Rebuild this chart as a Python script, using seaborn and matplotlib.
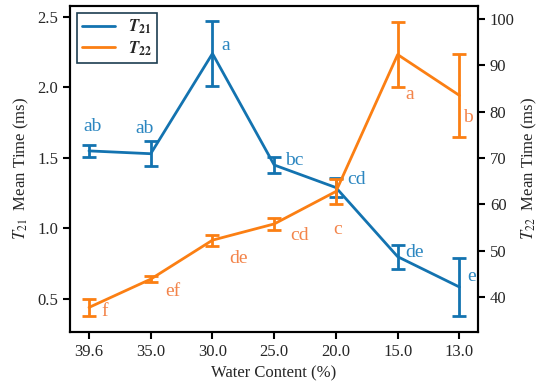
import matplotlib
matplotlib.use("Agg")
import matplotlib.pyplot as plt
import numpy as np
import pandas as pd
import seaborn as sns

# data
water_content = ["39.6", "35.0", "30.0", "25.0", "20.0", "15.0", "13.0"]
t21_mean = [1.55, 1.53, 2.24, 1.45, 1.29, 0.80, 0.585]
t21_err = [0.04, 0.09, 0.23, 0.06, 0.07, 0.085, 0.205]
t21_letters = ["ab", "ab", "a", "bc", "cd", "de", "e"]
t22_mean = [37.8, 43.9, 52.3, 55.8, 62.8, 92.3, 83.5]
t22_err = [1.9, 0.7, 1.2, 1.3, 2.7, 7.0, 9.0]
t22_letters = ["f", "ef", "de", "cd", "c", "a", "b"]

# label offsets in pixels (dx, dy)
t21_offsets = [(4, 24), (-6, 25), (13, 8), (20, 5), (21, 8), (17, 4), (12, 11)]
t22_offsets = [(16, -4), (22, -12), (26, -18), (25, -12), (2, -38), (12, -40), (9, -22)]

BLUE = "#1373b0"
ORANGE = "#fb7f13"
BLUE_TXT = "#2b86c0"
ORANGE_TXT = "#f3844a"

sns.set_style("ticks")
plt.rcParams["font.family"] = ["Liberation Serif", "DejaVu Serif"]
plt.rcParams["mathtext.fontset"] = "stix"
plt.rcParams["font.size"] = 11

df = pd.DataFrame({
    "pos": np.arange(len(water_content)),
    "t21": t21_mean,
    "t22": t22_mean,
})

fig = plt.figure(figsize=(5.5, 3.92), dpi=100)
ax = fig.add_axes([0.127, 0.153, 0.742, 0.832])
ax2 = ax.twinx()

sns.lineplot(data=df, x="pos", y="t21", ax=ax, color=BLUE, lw=2.0,
             label=r"$\mathbfit{T}_{\mathbf{21}}$", legend=False)
ax.errorbar(df["pos"], df["t21"], yerr=t21_err, fmt="none", ecolor=BLUE,
            elinewidth=2.0, capsize=5, capthick=2.0)
sns.lineplot(data=df, x="pos", y="t22", ax=ax2, color=ORANGE, lw=2.0,
             label=r"$\mathbfit{T}_{\mathbf{22}}$", legend=False)
ax2.errorbar(df["pos"], df["t22"], yerr=t22_err, fmt="none", ecolor=ORANGE,
             elinewidth=2.0, capsize=5, capthick=2.0)

for i, (txt, off) in enumerate(zip(t21_letters, t21_offsets)):
    ax.annotate(txt, (i, t21_mean[i]), xytext=off, textcoords="offset pixels",
                ha="center", va="center", color=BLUE_TXT, fontsize=14)
for i, (txt, off) in enumerate(zip(t22_letters, t22_offsets)):
    ax2.annotate(txt, (i, t22_mean[i]), xytext=off, textcoords="offset pixels",
                 ha="center", va="center", color=ORANGE_TXT, fontsize=14)

ax.set_xlim(-0.31, 6.3)
ax.set_ylim(0.266, 2.578)
ax2.set_ylim(32.5, 102.8)
ax.set_xticks(df["pos"])
ax.set_xticklabels(water_content)
ax.set_yticks([0.5, 1.0, 1.5, 2.0, 2.5])
ax2.set_yticks([40, 50, 60, 70, 80, 90, 100])

ax.set_xlabel("Water Content (%)", fontsize=12)
ax.set_ylabel(r"$\mathit{T}_{21}$  Mean Time (ms)", fontsize=12)
ax2.set_ylabel(r"$\mathit{T}_{22}$  Mean Time (ms)", fontsize=12)

for a in (ax, ax2):
    for s in a.spines.values():
        s.set_linewidth(1.5)
        s.set_color("black")
    a.tick_params(width=1.5, length=5, labelsize=12, color="black")

h1, l1 = ax.get_legend_handles_labels()
h2, l2 = ax2.get_legend_handles_labels()
leg = ax2.legend(h1 + h2, l1 + l2, loc="upper left", fancybox=False,
                 framealpha=1, edgecolor="#1c3d50", fontsize=12,
                 handlelength=2.0, borderaxespad=0.4, borderpad=0.3,
                 labelspacing=0.2)
leg.get_frame().set_linewidth(1.2)

fig.savefig("out.png", dpi=100)
